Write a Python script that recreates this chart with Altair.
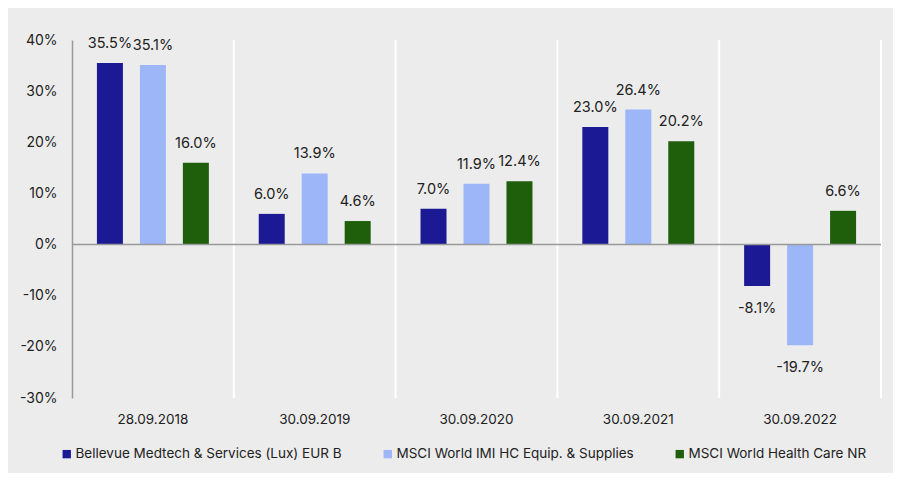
import altair as alt
import pandas as pd

categories = ["28.09.2018", "30.09.2019", "30.09.2020", "30.09.2021", "30.09.2022"]
series = [
    "Bellevue Medtech & Services (Lux) EUR B",
    "MSCI World IMI HC Equip. & Supplies",
    "MSCI World Health Care NR",
]
bellevue = [35.5, 6.0, 7.0, 23.0, -8.1]
msci_imi = [35.1, 13.9, 11.9, 26.4, -19.7]
msci_hc = [16.0, 4.6, 12.4, 20.2, 6.6]
colors = ["#1b1a94", "#9db6f8", "#1f5e0b"]

rows = []
for s, vals in zip(series, [bellevue, msci_imi, msci_hc]):
    for c, v in zip(categories, vals):
        rows.append({"date": c, "series": s, "value": v,
                     "label": f"{v:.1f}%"})
df = pd.DataFrame(rows)
cat_df = pd.DataFrame({"date": categories})

FONT = "Inter"
TXT = "#222222"

xscale = alt.Scale(domain=categories, paddingInner=0, paddingOuter=0)
yscale = alt.Scale(domain=[-30, 40], nice=False)

x_axis = alt.Axis(title=None, labelAngle=0, ticks=False, domain=False,
                  labelFontSize=13.5, labelColor=TXT, labelFont=FONT,
                  labelPadding=14, grid=False)

sep = alt.Chart(cat_df).mark_rule(color="white", strokeWidth=2).encode(
    x=alt.X("date:N", scale=xscale, sort=categories, bandPosition=1, axis=x_axis),
)

bars = alt.Chart(df).mark_bar(size=26).encode(
    x=alt.X("date:N", scale=xscale, sort=categories, axis=x_axis),
    xOffset=alt.XOffset("series:N", sort=series,
                        scale=alt.Scale(paddingInner=0.395, paddingOuter=0.58)),
    y=alt.Y("value:Q", scale=yscale,
            axis=alt.Axis(title=None, values=[-30, -20, -10, 0, 10, 20, 30, 40],
                          labelExpr="datum.value + '%'", grid=False, ticks=False,
                          domain=True, domainColor="#999999", domainWidth=1.5,
                          labelFontSize=14, labelColor=TXT, labelFont=FONT,
                          labelPadding=15)),
    color=alt.Color("series:N", sort=series,
                    scale=alt.Scale(domain=series, range=colors),
                    legend=alt.Legend(title=None, orient="none", direction="horizontal",
                                      legendX=-12, legendY=407,
                                      symbolType="square", symbolSize=70,
                                      symbolStrokeWidth=0,
                                      labelFontSize=13.5, labelColor=TXT, labelFont=FONT,
                                      labelOffset=2, columnPadding=39, columns=3,
                                      labelLimit=400)),
)

zero = alt.Chart(pd.DataFrame({"z": [0]})).mark_rule(color="#999999", strokeWidth=1.5).encode(
    y=alt.Y("z:Q", scale=yscale)
)

labels_pos = alt.Chart(df).transform_filter("datum.value >= 0").mark_text(
    fontSize=14.5, font=FONT, color=TXT, baseline="middle", dy=-19
).encode(
    x=alt.X("date:N", scale=xscale, sort=categories, axis=x_axis),
    xOffset=alt.XOffset("series:N", sort=series),
    y=alt.Y("value:Q", scale=yscale),
    text="label:N",
)
labels_neg = alt.Chart(df).transform_filter("datum.value < 0").mark_text(
    fontSize=14.5, font=FONT, color=TXT, baseline="middle", dy=23
).encode(
    x=alt.X("date:N", scale=xscale, sort=categories, axis=x_axis),
    xOffset=alt.XOffset("series:N", sort=series),
    y=alt.Y("value:Q", scale=yscale),
    text="label:N",
)

chart = alt.layer(sep, bars, zero, labels_pos, labels_neg).properties(
    width=809, height=358,
    autosize=alt.AutoSizeParams(type="none"),
    padding={"left": 64, "top": 32, "right": 12, "bottom": 75},
    background="#ececec",
).configure_view(stroke=None, fill="#ececec")

chart.save("out.html", embed_options={"renderer": "svg", "actions": False})
